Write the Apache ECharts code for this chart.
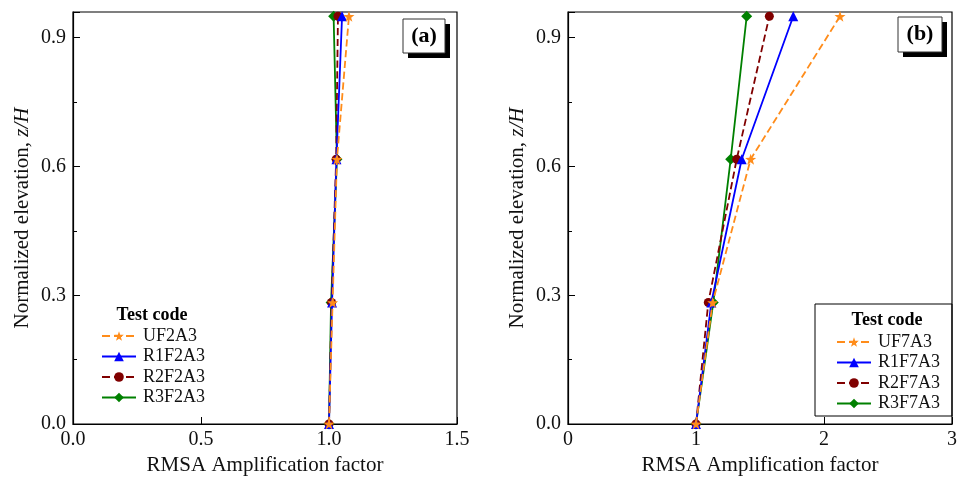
<!DOCTYPE html>
<html>
<head>
<meta charset="utf-8">
<script src="https://cdn.jsdelivr.net/npm/echarts@6/dist/echarts.min.js"></script>
<style>html,body{margin:0;padding:0;background:#fff}#c{width:961px;height:478px}</style>
</head>
<body>
<div id="c"></div>
<script>
// Data
const elevations = [0, 0.283, 0.617, 0.95];
const namesA = ['UF2A3', 'R1F2A3', 'R2F2A3', 'R3F2A3'];
const namesB = ['UF7A3', 'R1F7A3', 'R2F7A3', 'R3F7A3'];
const uf2a3 = [1.0, 1.014, 1.031, 1.078];
const r1f2a3 = [1.0, 1.012, 1.029, 1.051];
const r2f2a3 = [1.0, 1.010, 1.028, 1.035];
const r3f2a3 = [1.0, 1.008, 1.031, 1.018];
const uf7a3 = [1.0, 1.13, 1.427, 2.125];
const r1f7a3 = [1.0, 1.12, 1.357, 1.76];
const r2f7a3 = [1.0, 1.096, 1.318, 1.573];
const r3f7a3 = [1.0, 1.135, 1.271, 1.396];
const xTicksA = [0, 0.5, 1.0, 1.5];
const xTicksB = [0, 1, 2, 3];
const yTicks = [0, 0.3, 0.6, 0.9];

const FONT = '"Liberation Serif", "DejaVu Serif", serif';
const styles = [
  {color: '#ff8c1a', type: 'dashed', symbol: 'path://M0,-10 L2.35,-3.24 L9.51,-3.09 L3.8,1.24 L5.88,8.09 L0,4 L-5.88,8.09 L-3.8,1.24 L-9.51,-3.09 L-2.35,-3.24 Z', size: 11},
  {color: '#0000ff', type: 'solid', symbol: 'triangle', size: 10},
  {color: '#800000', type: 'dashed', symbol: 'circle', size: 9},
  {color: '#008000', type: 'solid', symbol: 'diamond', size: 11}
];

function mk(name, xs, idx, gi) {
  const s = styles[idx];
  return {
    name: name, type: 'line', xAxisIndex: gi, yAxisIndex: gi,
    data: xs.map((x, i) => [x, elevations[i]]),
    symbol: s.symbol, symbolSize: s.size,
    lineStyle: {color: s.color, width: 1.8, type: s.type},
    itemStyle: {color: s.color},
    z: 10 - idx
  };
}

const seriesA = [uf2a3, r1f2a3, r2f2a3, r3f2a3];
const seriesB = [uf7a3, r1f7a3, r2f7a3, r3f7a3];
const series = [];
seriesA.forEach((d, i) => series.push(mk(namesA[i], d, i, 0)));
seriesB.forEach((d, i) => series.push(mk(namesB[i], d, i, 1)));

function xAxis(gi, max, interval, fmt) {
  return {
    type: 'value', gridIndex: gi, min: 0, max: max, interval: interval,
    name: 'RMSA Amplification factor', nameLocation: 'middle', nameGap: 31,
    nameTextStyle: {fontFamily: FONT, fontSize: 21, color: '#111'},
    axisLine: {show: true, lineStyle: {color: '#000', width: 1.2}},
    axisTick: {show: true, inside: true, length: 7, lineStyle: {color: '#000'}},
    axisLabel: {fontFamily: FONT, fontSize: 20, color: '#111', margin: 6, formatter: fmt},
    splitLine: {show: false}
  };
}
function yAxis(gi) {
  return {
    type: 'value', gridIndex: gi, min: 0, max: 0.96, interval: 0.3,
    name: '{n|Normalized elevation, }{i|z/H}', nameLocation: 'middle', nameGap: 40,
    nameTextStyle: {fontFamily: FONT, fontSize: 21, color: '#111',
      rich: {n: {fontFamily: FONT, fontSize: 21, color: '#111'}, i: {fontFamily: FONT, fontSize: 21, fontStyle: 'italic', color: '#111'}}},
    axisLine: {show: true, lineStyle: {color: '#000', width: 1.2}},
    axisTick: {show: true, inside: true, length: 7, lineStyle: {color: '#000'}},
    minorTick: {show: true, splitNumber: 2, length: 4, lineStyle: {color: '#000'}},
    axisLabel: {fontFamily: FONT, fontSize: 20, color: '#111', margin: 7, showMaxLabel: false,
      formatter: v => yTicks.indexOf(Math.round(v * 100) / 100) >= 0 ? v.toFixed(1) : ''},
    splitLine: {show: false}
  };
}

function legend(names, left, top) {
  return {
    data: names, orient: 'vertical', left: left, top: top,
    itemWidth: 34, itemHeight: 12, itemGap: 2.5, padding: 0,
    textStyle: {fontFamily: FONT, fontSize: 18, color: '#111', padding: [0, 0, 0, 2]}
  };
}

function labelBox(x, y, w, h, txt) {
  return [
    {type: 'rect', shape: {x: x + 5, y: y + 5, width: w, height: h}, style: {fill: '#000'}, z: 100},
    {type: 'rect', shape: {x: x, y: y, width: w, height: h}, style: {fill: '#fff', stroke: '#333', lineWidth: 1}, z: 101},
    {type: 'text', x: x + w / 2, y: y + h / 2, style: {text: txt, font: 'bold 22px ' + FONT, fill: '#000', align: 'center', verticalAlign: 'middle'}, z: 102}
  ];
}

const chart = echarts.init(document.getElementById('c'), null, {renderer: 'canvas'});
chart.setOption({
  backgroundColor: '#fff',
  animation: false,
  grid: [
    {left: 73, top: 12, width: 384, height: 412, show: true, borderColor: '#000', borderWidth: 1.2, backgroundColor: 'transparent', outerBoundsMode: 'none', containLabel: false},
    {left: 568, top: 12, width: 384, height: 412, show: true, borderColor: '#000', borderWidth: 1.2, backgroundColor: 'transparent', outerBoundsMode: 'none', containLabel: false}
  ],
  xAxis: [
    xAxis(0, 1.5, 0.5, v => v.toFixed(1)),
    xAxis(1, 3, 1, v => String(v))
  ],
  yAxis: [yAxis(0), yAxis(1)],
  legend: [legend(namesA, 101, 327), legend(namesB, 836, 333)],
  graphic: [
    {type: 'rect', shape: {x: 815, y: 304, width: 137, height: 112}, style: {fill: 'none', stroke: '#000', lineWidth: 1}, z: 50},
    {type: 'text', x: 152, y: 315, style: {text: 'Test code', font: 'bold 18px ' + FONT, fill: '#000', align: 'center', verticalAlign: 'middle'}},
    {type: 'text', x: 887, y: 320, style: {text: 'Test code', font: 'bold 18px ' + FONT, fill: '#000', align: 'center', verticalAlign: 'middle'}},
    ...labelBox(403, 19, 42, 34, '(a)'),
    ...labelBox(898, 17, 44, 35, '(b)')
  ],
  series: series
});
</script>
</body>
</html>
